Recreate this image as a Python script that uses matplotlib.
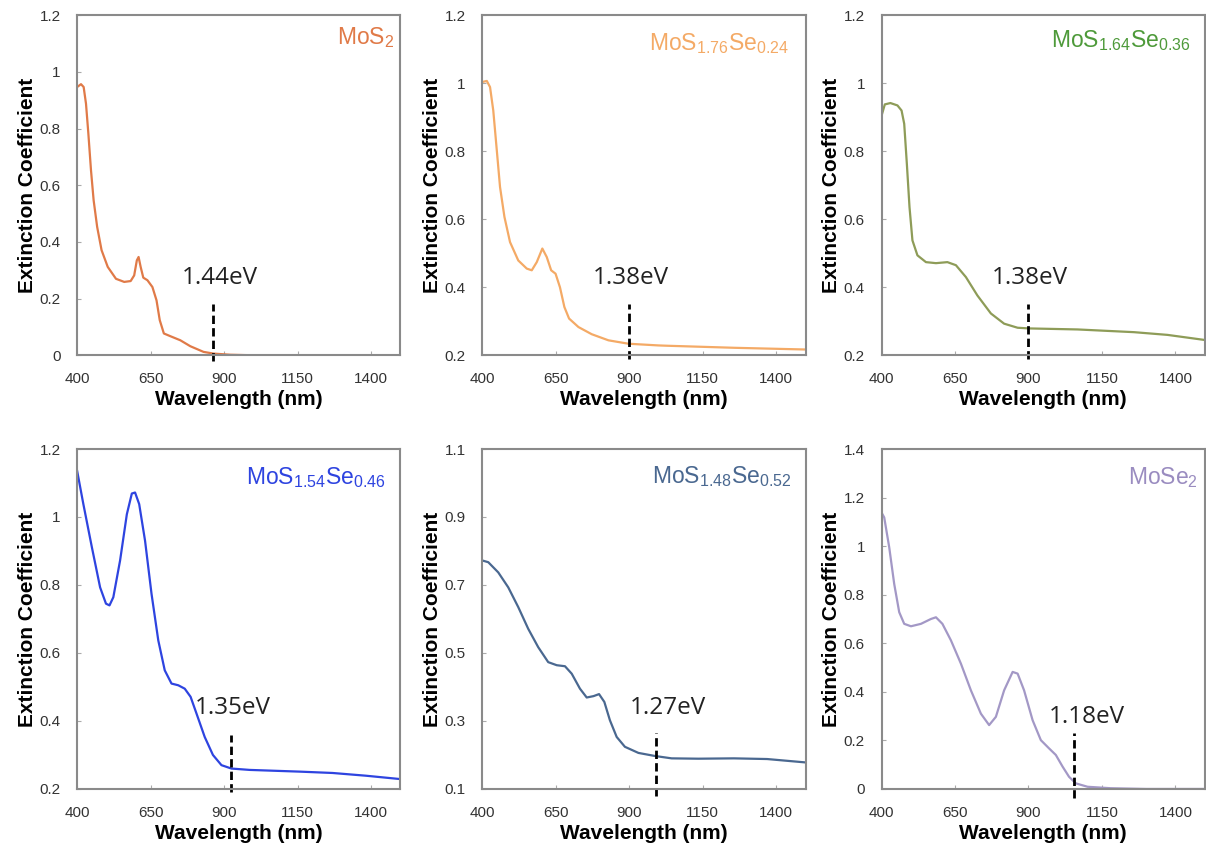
import matplotlib
matplotlib.use("Agg")
import matplotlib.pyplot as plt

plt.rcParams['font.family'] = ['Liberation Sans', 'DejaVu Sans']
plt.rcParams['mathtext.fontset'] = 'custom'
plt.rcParams['mathtext.rm'] = 'Open Sans'

# wavelength (nm) / extinction coefficient
wl_mos2 = [400, 413, 422, 430, 438, 447, 456, 468, 483, 504, 532, 560, 582, 594, 603, 609, 616, 625, 639, 656,
           670, 681, 695, 718, 751, 785, 830, 864, 920, 1000, 1200, 1500]
k_mos2 = [0.947, 0.957, 0.947, 0.888, 0.783, 0.653, 0.547, 0.453, 0.371, 0.312, 0.27, 0.259, 0.262, 0.282, 0.335,
          0.347, 0.312, 0.274, 0.265, 0.241, 0.194, 0.124, 0.077, 0.067, 0.053, 0.032, 0.012, 0.006, 0.002, 0.0, 0.0, 0.0]

wl_s176 = [400, 415, 426, 437, 449, 460, 475, 494, 522, 551, 568, 585, 604, 619, 634, 649, 664, 679, 695, 727,
           772, 829, 897, 999, 1031, 1259, 1500]
k_s176 = [1.004, 1.007, 0.989, 0.92, 0.803, 0.695, 0.607, 0.533, 0.479, 0.455, 0.45, 0.474, 0.514, 0.489, 0.45,
          0.44, 0.40, 0.342, 0.308, 0.283, 0.262, 0.244, 0.234, 0.229, 0.228, 0.222, 0.217]

wl_s164 = [400, 411, 430, 454, 468, 477, 486, 495, 505, 522, 551, 585, 624, 653, 687, 726, 772, 817, 863, 902,
           1067, 1259, 1373, 1500]
k_s164 = [0.905, 0.938, 0.942, 0.935, 0.92, 0.881, 0.763, 0.636, 0.538, 0.494, 0.474, 0.471, 0.474, 0.465, 0.43,
          0.376, 0.323, 0.293, 0.281, 0.279, 0.276, 0.268, 0.26, 0.245]

wl_s154 = [400, 421, 450, 478, 498, 510, 523, 546, 569, 586, 597, 611, 631, 653, 676, 698, 721, 744, 766, 786,
           806, 834, 862, 891, 925, 987, 1156, 1269, 1382, 1500]
k_s154 = [1.135, 1.038, 0.911, 0.793, 0.745, 0.74, 0.764, 0.872, 1.008, 1.069, 1.072, 1.038, 0.93, 0.774, 0.637,
          0.549, 0.51, 0.505, 0.495, 0.471, 0.422, 0.353, 0.30, 0.27, 0.26, 0.256, 0.251, 0.247, 0.239, 0.229]

wl_s148 = [400, 420, 454, 488, 522, 556, 590, 624, 653, 681, 704, 732, 755, 778, 797, 815, 834, 857, 885, 931,
           987, 1044, 1135, 1256, 1369, 1500]
k_s148 = [0.772, 0.767, 0.737, 0.693, 0.635, 0.571, 0.517, 0.473, 0.464, 0.461, 0.439, 0.395, 0.369, 0.373, 0.379,
          0.356, 0.302, 0.253, 0.224, 0.206, 0.197, 0.19, 0.189, 0.19, 0.188, 0.178]

wl_mose2 = [400, 409, 426, 443, 460, 477, 500, 534, 568, 585, 607, 636, 670, 704, 738, 766, 789, 817, 846, 863,
            885, 914, 942, 970, 993, 1016, 1038, 1061, 1101, 1180, 1300, 1500]
k_mose2 = [1.138, 1.118, 0.995, 0.844, 0.728, 0.68, 0.67, 0.68, 0.70, 0.707, 0.68, 0.612, 0.516, 0.406, 0.31,
           0.263, 0.297, 0.406, 0.482, 0.475, 0.406, 0.283, 0.201, 0.167, 0.14, 0.092, 0.05, 0.023, 0.009, 0.003, 0.0, 0.0]

labels = [r'$\mathregular{MoS_2}$', r'$\mathregular{MoS_{1.76}Se_{0.24}}$', r'$\mathregular{MoS_{1.64}Se_{0.36}}$',
          r'$\mathregular{MoS_{1.54}Se_{0.46}}$', r'$\mathregular{MoS_{1.48}Se_{0.52}}$', r'$\mathregular{MoSe_2}$']
gaps = ['1.44eV', '1.38eV', '1.38eV', '1.35eV', '1.27eV', '1.18eV']
gap_wl = [861, 900, 900, 922, 990, 1055]
ylims = [(0, 1.2), (0.2, 1.2), (0.2, 1.2), (0.2, 1.2), (0.1, 1.1), (0, 1.4)]
yticks = [[0, 0.2, 0.4, 0.6, 0.8, 1, 1.2], [0.2, 0.4, 0.6, 0.8, 1, 1.2], [0.2, 0.4, 0.6, 0.8, 1, 1.2],
          [0.2, 0.4, 0.6, 0.8, 1, 1.2], [0.1, 0.3, 0.5, 0.7, 0.9, 1.1], [0, 0.2, 0.4, 0.6, 0.8, 1, 1.2, 1.4]]
xticks = [400, 650, 900, 1150, 1400]

line_colors = ['#E07A48', '#F4AA66', '#8E9C58', '#2E44E0', '#4A6890', '#A398C6']
text_colors = ['#E07A48', '#F4AA66', '#4E9A3A', '#2E44E0', '#4A6890', '#9A8CC0']
label_pos = [(0.98, 0.935), (0.95, 0.918), (0.955, 0.926), (0.955, 0.915), (0.955, 0.92), (0.98, 0.915)]
# dashed marker (bottom, top) and gap text (x, y) in data units
dash_y = [(-0.02, 0.18), (0.19, 0.35), (0.19, 0.35), (0.19, 0.36), (0.08, 0.264), (-0.037, 0.23)]
text_xy = [(884, 0.25), (905, 0.41), (905, 0.41), (931, 0.42), (1032, 0.32), (1097, 0.27)]

data = [(wl_mos2, k_mos2), (wl_s176, k_s176), (wl_s164, k_s164),
        (wl_s154, k_s154), (wl_s148, k_s148), (wl_mose2, k_mose2)]

fig = plt.figure(figsize=(12.06, 8.52), dpi=100)
lefts = [0.064, 0.400, 0.731]
bottoms = [0.583, 0.074]

for i in range(6):
    r, c = divmod(i, 3)
    ax = fig.add_axes([lefts[c], bottoms[r], 0.268, 0.399])
    wl, k = data[i]
    ax.plot(wl, k, color=line_colors[i], lw=1.6, solid_joinstyle='round')
    ax.plot([gap_wl[i], gap_wl[i]], dash_y[i], color='black', lw=2, ls=(0, (3, 1.5)), clip_on=False)
    ax.text(text_xy[i][0], text_xy[i][1], gaps[i], fontsize=17.5, family='Open Sans',
            ha='center', va='baseline', color='#222222')
    ax.text(label_pos[i][0], label_pos[i][1], labels[i], transform=ax.transAxes, ha='right', va='center',
            fontsize=16.5, color=text_colors[i])
    ax.set_xlim(400, 1500)
    ax.set_ylim(*ylims[i])
    ax.set_xticks(xticks)
    ax.set_yticks(yticks[i])
    ax.set_yticklabels([('%g' % v) for v in yticks[i]])
    ax.tick_params(axis='x', direction='in', length=3, color='#aaaaaa', pad=12, labelsize=11, labelcolor='#333333')
    ax.tick_params(axis='y', direction='in', length=3, color='#aaaaaa', pad=12, labelsize=11, labelcolor='#333333')
    for s in ax.spines.values():
        s.set_color('#8a8a8a')
        s.set_linewidth(1.5)
    ax.set_xlabel('Wavelength (nm)', fontsize=15, fontweight='bold', labelpad=3)
    ax.set_ylabel('Extinction Coefficient', fontsize=15, fontweight='bold', labelpad=2)

fig.savefig('out.png', dpi=100)
